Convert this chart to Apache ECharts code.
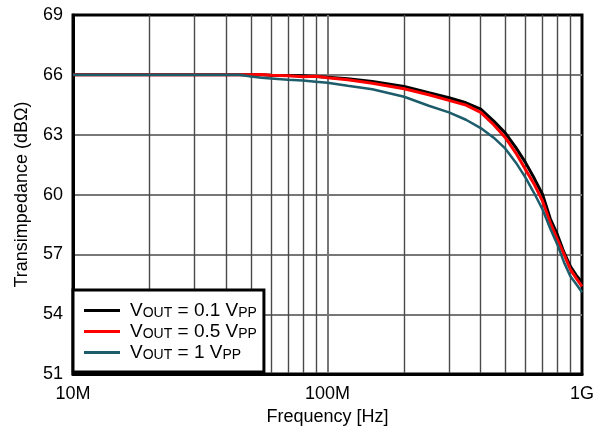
<!DOCTYPE html>
<html>
<head>
<meta charset="utf-8">
<script src="https://cdn.jsdelivr.net/npm/echarts@6/dist/echarts.min.js"></script>
<style>
  html, body { margin: 0; padding: 0; background: #fff; }
  #chart { width: 597px; height: 431px; }
</style>
</head>
<body>
<div id="chart"></div>
<script>
  // frequency points (Hz)
  var freqs = [1e7, 2e7, 3e7, 4e7, 4.5e7, 5e7, 5.5e7, 6e7, 7e7, 8e7, 9e7, 1e8, 1.2e8, 1.5e8, 2e8, 2.5e8,
    3e8, 3.5e8, 4e8, 4.5e8, 5e8, 5.5e8, 6e8, 6.5e8, 7e8, 7.5e8, 8e8, 8.5e8, 9e8, 9.5e8, 1e9]
  // transimpedance (dBOhm)
  var vout01 = [66.0, 66.0, 66.0, 66.0, 66.0, 66.0, 66.0, 65.98, 65.97, 65.95, 65.92, 65.88, 65.8, 65.67, 65.42, 65.1,
    64.85, 64.6, 64.28, 63.68, 63.08, 62.35, 61.6, 60.8, 60.0, 58.8, 58.0, 57.1, 56.4, 55.95, 55.6]
  var vout05 = [66.0, 66.0, 66.0, 66.0, 66.0, 66.0, 66.02, 65.98, 65.95, 65.9, 65.93, 65.85, 65.75, 65.58, 65.3, 65.0,
    64.72, 64.48, 64.12, 63.5, 62.85, 62.08, 61.25, 60.5, 59.67, 58.6, 57.75, 57.0, 56.25, 55.8, 55.4]
  var vout1 = [66.0, 66.0, 66.0, 66.0, 66.0, 65.92, 65.85, 65.82, 65.75, 65.72, 65.65, 65.6, 65.45, 65.28, 64.9, 64.45,
    64.12, 63.75, 63.33, 62.85, 62.3, 61.6, 60.85, 60.05, 59.25, 58.3, 57.5, 56.6, 55.9, 55.5, 55.1]
  var legendNames = ['VOUT = 0.1 VPP', 'VOUT = 0.5 VPP', 'VOUT = 1 VPP']
  var legendLevels = ['0.1', '0.5', '1']
  var xTickLabels = { 1e7: '10M', 1e8: '100M', 1e9: '1G' }

  var font = 'Liberation Sans, Arial, Helvetica, sans-serif'

  function pairs(vals) {
    return freqs.map(function (f, i) { return [f, vals[i]] })
  }

  var chart = echarts.init(document.getElementById('chart'))
  chart.setOption({
    animation: false,
    textStyle: { fontFamily: font },
    grid: {
      left: 73, right: 13, top: 15, bottom: 56,
      show: true, borderColor: '#000', borderWidth: 3
    },
    legend: {
      orient: 'vertical',
      left: 73, top: 290,
      padding: [11, 7, 10, 11],
      itemGap: 2,
      itemWidth: 36, itemHeight: 3,
      icon: 'rect',
      backgroundColor: '#fff',
      borderColor: '#000', borderWidth: 3,
      borderRadius: 0,
      data: legendNames,
      formatter: function (name) {
        var i = legendNames.indexOf(name)
        return '{p|}{m|V}{s|OUT}{m| = ' + legendLevels[i] + ' V}{s|PP}'
      },
      textStyle: {
        color: '#000',
        rich: {
          p: { width: 5, lineHeight: 19 },
          m: { fontSize: 19, lineHeight: 19, fontFamily: font, color: '#000' },
          s: { fontSize: 14, lineHeight: 13, fontFamily: font, color: '#000', verticalAlign: 'bottom' }
        }
      }
    },
    xAxis: {
      type: 'log',
      logBase: 10,
      min: 1e7, max: 1e9,
      name: 'Frequency [Hz]',
      nameLocation: 'middle',
      nameGap: 30,
      nameTextStyle: { fontSize: 18, color: '#000', fontFamily: font },
      axisLine: { show: true, lineStyle: { color: '#000', width: 3 } },
      axisTick: { show: false },
      axisLabel: {
        margin: 11, fontSize: 18, color: '#000', fontFamily: font,
        formatter: function (v) { return xTickLabels[v] || '' }
      },
      splitLine: { show: true, showMinLine: false, showMaxLine: false, lineStyle: { color: '#777', width: 2 } },
      minorTick: { show: false, splitNumber: 9 },
      minorSplitLine: { show: true, lineStyle: { color: '#4a4a4a', width: 1.4 } }
    },
    yAxis: {
      type: 'value',
      min: 51, max: 69, interval: 3,
      name: 'Transimpedance (dBΩ)',
      nameLocation: 'middle',
      nameGap: 42,
      nameTextStyle: { fontSize: 18, color: '#000', fontFamily: font },
      axisLine: { show: true, lineStyle: { color: '#000', width: 3 } },
      axisTick: { show: false },
      axisLabel: { margin: 10, fontSize: 18, color: '#000', fontFamily: font },
      splitLine: { show: true, showMinLine: false, showMaxLine: false, lineStyle: { color: '#777', width: 2 } }
    },
    series: [
      {
        name: legendNames[0], type: 'line', data: pairs(vout01),
        symbol: 'none', color: '#000', lineStyle: { color: '#000', width: 3 }
      },
      {
        name: legendNames[1], type: 'line', data: pairs(vout05),
        symbol: 'none', color: '#ff0000', lineStyle: { color: '#ff0000', width: 3 }
      },
      {
        name: legendNames[2], type: 'line', data: pairs(vout1),
        symbol: 'none', color: '#1d5c6b', lineStyle: { color: '#1d5c6b', width: 2.5 }
      }
    ]
  })
</script>
</body>
</html>
